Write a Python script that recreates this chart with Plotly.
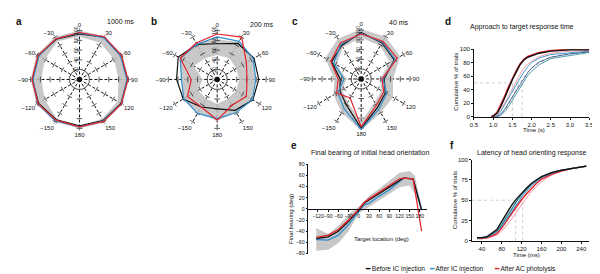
import plotly.graph_objects as go

W, H = 600, 274
FONT = "Liberation Sans, Arial, sans-serif"

BLACK = "#111111"
BLUE = "#2F8FCF"
RED = "#E3242B"
GRAY_BAND = "rgba(190,190,190,0.85)"

# ---------- polar panels (a, b, c) ----------
ANGLES = [0, 30, 60, 90, 120, 150, 180, -150, -120, -90, -60, -30]
ANGLE_LABELS = ["0", "30", "60", "90", "120", "150", "180", "−150", "−120", "−90", "−60", "−30"]
RADIAL_TICKS = [0, 20, 40, 60, 80, 100]
SPOKE_TICKS = [20, 40, 60, 80, 100]

# a: 1000 ms
a_before = [93, 100, 98, 98, 98, 97, 95, 95, 97, 96, 97, 95]
a_after_ic = [95, 99, 97, 97, 99, 98, 97, 98, 99, 95, 96, 96]
a_after_ac = [96, 101, 99, 99, 99, 99, 97, 96, 98, 97, 98, 96]
a_band_lo = [88, 86, 82, 80, 90, 93, 95, 93, 82, 78, 82, 90]
a_band_hi = [100, 102, 101, 101, 101, 101, 100, 100, 101, 100, 101, 100]

# b: 200 ms
b_before = [73, 85, 87, 85, 84, 73, 60, 65, 80, 83, 92, 83]
b_after_ic = [87, 90, 85, 79, 83, 78, 80, 80, 79, 73, 87, 83]
b_after_ac = [93, 100, 69, 61, 69, 61, 83, 65, 70, 53, 87, 86]
b_band_lo = [50, 50, 45, 45, 45, 45, 50, 45, 45, 30, 55, 50]
b_band_hi = [82, 88, 87, 78, 82, 78, 85, 78, 80, 72, 90, 86]

# c: 40 ms
c_before = [95, 85, 78, 47, 57, 67, 101, 61, 50, 43, 70, 79]
c_after_ic = [93, 87, 80, 45, 60, 72, 103, 70, 55, 35, 65, 82]
c_after_ac = [92, 89, 85, 43, 53, 62, 98, 45, 58, 47, 72, 85]
c_band_lo = [85, 78, 68, 38, 48, 55, 88, 55, 45, 30, 58, 75]
c_band_hi = [102, 100, 92, 65, 75, 80, 105, 80, 65, 55, 85, 95]

POLAR_CENTERS = [(68.5, 70), (208.3, 70), (354.5, 69.5)]
R_MAX = 104          # radial range upper bound
PX_PER_UNIT = 0.5    # 100 units -> 50 px

# ---------- panel d ----------
D_TIME = [0.95, 1.0, 1.1, 1.2, 1.3, 1.4, 1.5, 1.6, 1.7, 1.8, 1.9, 2.0, 2.2, 2.5, 3.0, 3.5]
d_before = [0, 1, 5, 15, 28, 42, 55, 66, 77, 84, 88, 90, 94, 97, 99, 99]
d_after_ac = [0, 1, 6, 17, 30, 44, 57, 68, 78, 85, 89, 91, 95, 98, 100, 100]
d_ac_thin = [0, 0, 3, 10, 20, 31, 43, 53, 63, 72, 78, 82, 89, 94, 97, 98]
d_ic_blue = [0, 0, 1, 8, 18, 28, 39, 48, 57, 66, 74, 80, 87, 92, 95, 97]
d_ic_navy = [0, 0, 0, 4, 11, 20, 30, 38, 47, 57, 65, 72, 81, 88, 93, 96]
d_ic_teal = [0, 0, 0, 2, 7, 15, 24, 33, 43, 53, 61, 67, 77, 86, 91, 95]
d_dotted = [0, 0, 0, 3, 9, 18, 30, 40, 50, 59, 66, 72, 80, 88, 93, 96]
D_MEDIANS = [1.5, 1.75]

# ---------- panel e ----------
E_X = [-125, -90, -60, -30, 0, 15, 30, 60, 90, 120, 132, 160, 185]
e_before = [-53, -50, -40, -22, -2, 10, 16, 27, 39, 51, 55, 54, -2]
e_after_ic = [-55, -56, -47, -28, -5, 7, 10, 23, 34, 50, 55, 54, -2]
e_after_ac = [-51, -47, -37, -20, -1, 11, 18, 30, 43, 54, 55, 54, -40]
E_BAND_X = [-125, -90, -60, -30, 0, 30, 60, 90, 120, 150, 165, 185]
e_band_lo = [-75, -73, -61, -40, -8, 4, 16, 27, 39, 42, 27, -2]
e_band_hi = [-34, -45, -30, -10, 4, 23, 36, 51, 65, 68, 60, 4]
E_XTICKS = [-120, -90, -60, -30, 0, 30, 60, 90, 120, 150, 180]

# ---------- panel f ----------
F_TIME = [30, 40, 50, 60, 70, 80, 90, 100, 110, 120, 130, 140, 150, 160, 180, 200, 220, 250]
f_before = [4, 4, 5, 9, 14, 24, 34, 44, 52, 59, 65, 71, 75, 79, 84, 87, 89, 92]
f_ic_teal = [4, 4, 5, 8, 12, 20, 30, 40, 49, 57, 64, 70, 75, 79, 84, 87, 89, 92]
f_ic_blue = [3, 4, 4, 7, 11, 18, 27, 37, 46, 54, 61, 68, 73, 78, 83, 87, 89, 92]
f_ac_red = [3, 3, 4, 6, 9, 16, 25, 34, 43, 51, 58, 65, 71, 76, 82, 86, 89, 92]
f_ac_pink = [3, 3, 3, 5, 7, 12, 19, 27, 36, 45, 53, 61, 67, 73, 81, 86, 89, 92]
F_MEDIANS = [108, 122]

LEGEND = [("Before IC injection", BLACK), ("After IC injection", BLUE), ("After AC photolysis", RED)]

fig = go.Figure()


def closed(v):
    return list(v) + [v[0]]


THETA = [a % 360 for a in ANGLES]

polar_sets = [
    ("polar", a_before, a_after_ic, a_after_ac, a_band_lo, a_band_hi),
    ("polar2", b_before, b_after_ic, b_after_ac, b_band_lo, b_band_hi),
    ("polar3", c_before, c_after_ic, c_after_ac, c_band_lo, c_band_hi),
]
for sp, bef, ic, ac, lo, hi in polar_sets:
    th = closed(THETA)
    fig.add_trace(go.Scatterpolar(
        r=closed(hi) + closed(lo)[::-1], theta=th + th[::-1], subplot=sp,
        mode="lines", fill="toself", fillcolor=GRAY_BAND, line=dict(width=0),
        cliponaxis=False, showlegend=False, hoverinfo="skip"))
    st_r, st_t, st_a = [], [], []
    for ang in THETA:
        for rr in SPOKE_TICKS:
            st_r.append(rr)
            st_t.append(ang)
            st_a.append(ang)
    fig.add_trace(go.Scatterpolar(
        r=st_r, theta=st_t, subplot=sp, mode="markers", cliponaxis=False,
        marker=dict(symbol="line-ew", size=4, angle=st_a, line=dict(color=BLACK, width=0.7)),
        showlegend=False, hoverinfo="skip"))
    for vals, col in [(bef, BLACK), (ic, BLUE), (ac, RED)]:
        fig.add_trace(go.Scatterpolar(
            r=closed(vals), theta=th, subplot=sp, mode="lines", cliponaxis=False,
            line=dict(color=col, width=1.2), showlegend=False))
    fig.add_trace(go.Scatterpolar(
        r=[0], theta=[0], subplot=sp, mode="markers",
        marker=dict(color=BLACK, size=5), showlegend=False, hoverinfo="skip"))

# ---------- panel d traces ----------
for m in D_MEDIANS:
    fig.add_trace(go.Scatter(x=[m, m], y=[0, 50], xaxis="x", yaxis="y", mode="lines",
                             line=dict(color="#aaaaaa", width=0.6, dash="dot"), showlegend=False))
fig.add_trace(go.Scatter(x=[0.5, max(D_MEDIANS)], y=[50, 50], xaxis="x", yaxis="y", mode="lines",
                         line=dict(color="#aaaaaa", width=0.6, dash="dot"), showlegend=False))
d_lines = [
    (d_ic_teal, "#2A8C8C", 0.8, "solid"),
    (d_dotted, "#7F7F9F", 0.8, "dot"),
    (d_ic_navy, "#2C4D80", 0.8, "solid"),
    (d_ic_blue, BLUE, 0.9, "solid"),
    (d_ac_thin, "#F08A8A", 0.8, "solid"),
    (d_after_ac, RED, 1.6, "solid"),
    (d_before, BLACK, 1.4, "solid"),
]
for vals, col, wd, dash in d_lines:
    fig.add_trace(go.Scatter(x=D_TIME, y=vals, xaxis="x", yaxis="y", mode="lines",
                             line=dict(color=col, width=wd, dash=dash), showlegend=False))

# ---------- panel e traces ----------
fig.add_trace(go.Scatter(x=E_BAND_X + E_BAND_X[::-1], y=e_band_hi + e_band_lo[::-1],
                         xaxis="x2", yaxis="y2", mode="lines", fill="toself",
                         fillcolor=GRAY_BAND, line=dict(width=0), showlegend=False, hoverinfo="skip"))
for vals, col in [(e_after_ic, BLUE), (e_before, BLACK), (e_after_ac, RED)]:
    fig.add_trace(go.Scatter(x=E_X, y=vals, xaxis="x2", yaxis="y2", mode="lines",
                             line=dict(color=col, width=1.3), showlegend=False))

# ---------- panel f traces ----------
for m in F_MEDIANS:
    fig.add_trace(go.Scatter(x=[m, m], y=[0, 50], xaxis="x3", yaxis="y3", mode="lines",
                             line=dict(color="#aaaaaa", width=0.6, dash="dot"), showlegend=False))
fig.add_trace(go.Scatter(x=[20, max(F_MEDIANS)], y=[50, 50], xaxis="x3", yaxis="y3", mode="lines",
                         line=dict(color="#aaaaaa", width=0.6, dash="dot"), showlegend=False))
f_lines = [
    (f_ac_pink, "#F08A9A", 0.9),
    (f_ac_red, RED, 1.5),
    (f_ic_blue, BLUE, 1.0),
    (f_ic_teal, "#2A7F8A", 1.2),
    (f_before, BLACK, 1.4),
]
for vals, col, wd in f_lines:
    fig.add_trace(go.Scatter(x=F_TIME, y=vals, xaxis="x3", yaxis="y3", mode="lines",
                             line=dict(color=col, width=wd), showlegend=False))


def polar_layout(cx, cy):
    R = R_MAX * PX_PER_UNIT
    return dict(
        domain=dict(x=[(cx - R) / W, (cx + R) / W], y=[1 - (cy + R) / H, 1 - (cy - R) / H]),
        bgcolor="rgba(0,0,0,0)",
        angularaxis=dict(rotation=90, direction="clockwise", tickmode="array",
                         tickvals=THETA, ticktext=ANGLE_LABELS, showline=False,
                         showgrid=True, gridcolor=BLACK, griddash="3px,2px", gridwidth=0.7,
                         ticks="", tickfont=dict(size=6, color=BLACK)),
        radialaxis=dict(range=[0, R_MAX], angle=90, tickmode="array", tickvals=RADIAL_TICKS,
                        showline=False, showgrid=False, ticks="", tickangle=0,
                        side="counterclockwise", tickfont=dict(size=5, color=BLACK)),
    )


axis_style = dict(showline=True, linecolor=BLACK, linewidth=0.8, ticks="outside", ticklen=2,
                  tickwidth=0.8, tickcolor=BLACK, showgrid=False, zeroline=False,
                  tickfont=dict(size=6, color=BLACK), tickangle=0)

e_ydom = [1 - 248 / H, 1 - 156.7 / H]
axis_style_e = dict(axis_style, tickfont=dict(size=5.2, color=BLACK))

fig.update_layout(
    width=W, height=H, margin=dict(l=0, r=0, t=0, b=0),
    paper_bgcolor="white", plot_bgcolor="rgba(0,0,0,0)",
    font=dict(family=FONT, size=6, color=BLACK),
    showlegend=False,
    polar=polar_layout(*POLAR_CENTERS[0]),
    polar2=polar_layout(*POLAR_CENTERS[1]),
    polar3=polar_layout(*POLAR_CENTERS[2]),
    xaxis=dict(domain=[469 / W, 586 / W], range=[0.5, 3.5], dtick=0.5, tickformat=".1f",
               anchor="y", **axis_style),
    yaxis=dict(domain=[1 - 108 / H, 1 - 39 / H], range=[0, 100], dtick=20, anchor="x", **axis_style),
    xaxis2=dict(domain=[301 / W, 421 / W], range=[-148, 200], tickmode="array", tickvals=E_XTICKS,
                anchor="free", position=(e_ydom[0] + e_ydom[1]) / 2, **axis_style_e),
    yaxis2=dict(domain=e_ydom, range=[-80, 80], dtick=20, anchor="x2", **axis_style_e),
    xaxis3=dict(domain=[467 / W, 586 / W], range=[20, 256], tickmode="array",
                tickvals=[40, 80, 120, 160, 200, 240], anchor="y3", **axis_style),
    yaxis3=dict(domain=[1 - 235 / H, 1 - 152 / H], range=[0, 100], dtick=25, anchor="x3", **axis_style),
)

ann = []


def text(x, y, t, size=6, bold=False, angle=0, xanchor="center"):
    ann.append(dict(x=x / W, y=1 - y / H, xref="paper", yref="paper", text=f"<b>{t}</b>" if bold else t,
                    showarrow=False, font=dict(size=size, family=FONT, color=BLACK), textangle=angle,
                    xanchor=xanchor, yanchor="middle"))


for lab, (x, y) in zip("abcdef", [(7, 11), (144, 11), (287, 11), (443, 11), (286, 137), (447, 137)]):
    text(x, y, lab, size=10, bold=True)
text(110, 11, "1000 ms", size=7)
text(253, 14, "200 ms", size=7)
text(393, 12, "40 ms", size=7)
text(518, 16, "Approach to target response time", size=7)
text(451, 72, "Cumulative % of trials", size=6, angle=-90)
text(530, 122, "Time (s)", size=6)
text(363, 145, "Final bearing of initial head orientation", size=7)
text(284, 213, "Final bearing (deg)", size=6, angle=-90)
text(375, 233, "Target location (deg)", size=6)
text(527, 145, "Latency of head orienting response", size=7)
text(450, 193, "Cumulative % of trials", size=6, angle=-90)
text(522, 249, "Time (ms)", size=6)

leg_x = [356, 421, 487]
for (name, col), lx in zip(LEGEND, leg_x):
    ann.append(dict(x=lx / W, y=1 - 264 / H, xref="paper", yref="paper", xanchor="left", yanchor="middle",
                    text=f"<span style='color:{col}'><b>━</b></span> {name}", showarrow=False,
                    font=dict(size=6.5, family=FONT, color=BLACK)))

fig.update_layout(annotations=ann)
fig.write_html("out.html")
